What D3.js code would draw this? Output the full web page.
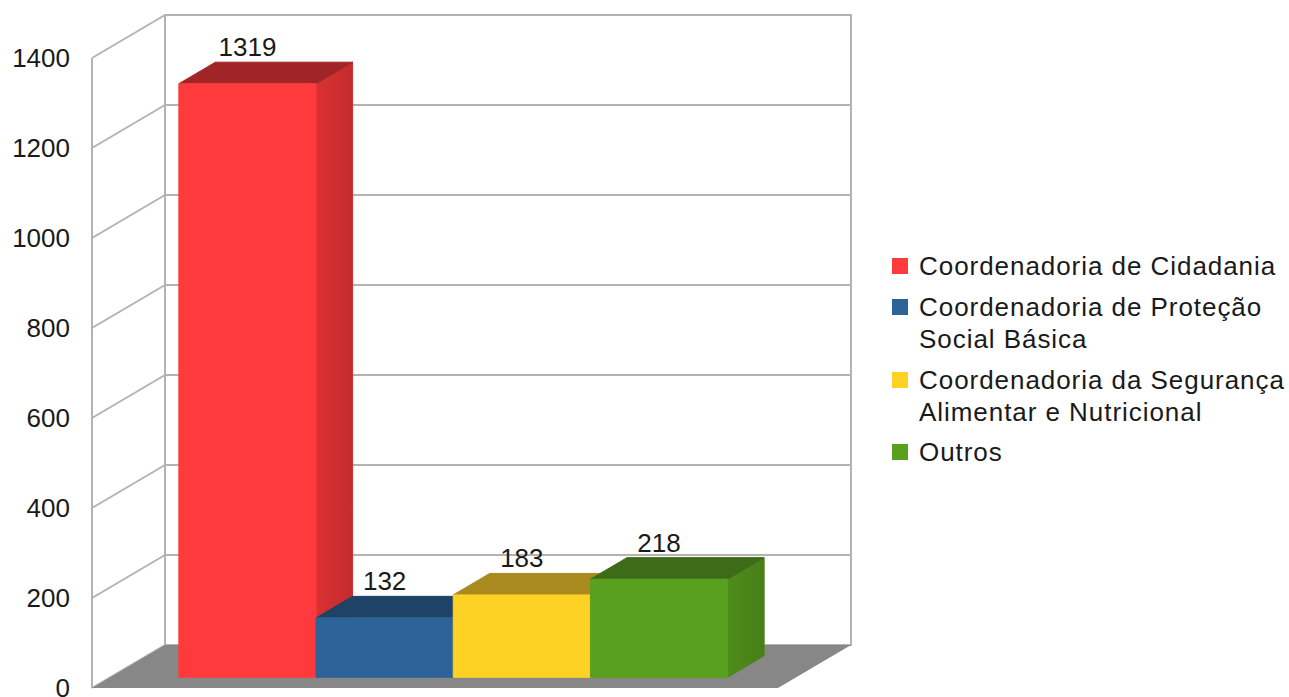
<!DOCTYPE html>
<html>
<head>
<meta charset="utf-8">
<script src="https://cdn.jsdelivr.net/npm/d3@7/dist/d3.min.js"></script>
<style>
  html, body { margin: 0; padding: 0; background: #fff; }
  svg { display: block; }
  text { font-family: "Liberation Sans", Arial, sans-serif; fill: #1a1a1a; }
</style>
</head>
<body>
<svg id="chart" width="1289" height="697"></svg>
<script>
const categories = ["Coordenadoria de Cidadania", "Coordenadoria de Proteção Social Básica", "Coordenadoria da Segurança Alimentar e Nutricional", "Outros"];
const values = [1319, 132, 183, 218];
const legendLines = [["Coordenadoria de Cidadania"], ["Coordenadoria de Proteção", "Social Básica"], ["Coordenadoria da Segurança", "Alimentar e Nutricional"], ["Outros"]];
const tickValues = [0, 200, 400, 600, 800, 1000, 1200, 1400];
const frontColors = ["#ff3a3c", "#2e6399", "#fdd224", "#5aa01f"];
const topColors = ["#a12527", "#1f4267", "#a88a1f", "#3d6b17"];
const sideColors = ["#cf2e30", "#274f7a", "#d3ad1d", "#4b851a"];

const svg = d3.select("#chart");
const yScale = d3.scaleLinear().domain([0, 1400]).range([688, 58]);
const xScale = d3.scaleBand().domain(categories).range([92, 778]).paddingInner(0).paddingOuter(0.5);
const DX = 73, DY = -43; // full depth offset
const proj = (x, v, z) => [x + DX * z, yScale(v) + DY * z];

const gridColor = "#b3b3b3";
const walls = svg.append("g");
// back wall
walls.append("rect")
  .attr("x", proj(92, 0, 1)[0]).attr("y", proj(92, 1400, 1)[1])
  .attr("width", xScale.range()[1] - xScale.range()[0])
  .attr("height", yScale(0) - yScale(1400))
  .attr("fill", "#fff").attr("stroke", gridColor).attr("stroke-width", 2);
// gridlines
tickValues.forEach(v => {
  const f = proj(92, v, 0), b = proj(92, v, 1), br = proj(778, v, 1);
  walls.append("line").attr("x1", f[0]).attr("y1", f[1]).attr("x2", b[0]).attr("y2", b[1])
    .attr("stroke", gridColor).attr("stroke-width", 2);
  walls.append("line").attr("x1", b[0]).attr("y1", b[1]).attr("x2", br[0]).attr("y2", br[1])
    .attr("stroke", gridColor).attr("stroke-width", 2);
});
// side wall front edge
walls.append("line")
  .attr("x1", 92).attr("y1", yScale(0)).attr("x2", 92).attr("y2", yScale(1400))
  .attr("stroke", gridColor).attr("stroke-width", 2);
// floor
const floorPts = [proj(92, 0, 0), proj(778, 0, 0), proj(778, 0, 1), proj(92, 0, 1)];
walls.append("polygon").attr("points", floorPts.map(p => p.join(",")).join(" "))
  .attr("fill", "#878787");

// tick labels
svg.append("g").selectAll("text").data(tickValues).join("text")
  .attr("x", 70).attr("y", d => yScale(d)).attr("dy", "0.36em")
  .attr("text-anchor", "end").attr("font-size", 26).text(d => d);

// gradients for side faces
const defs = svg.append("defs");
sideColors.forEach((c, i) => {
  const g = defs.append("linearGradient").attr("id", "side" + i).attr("x1", "0").attr("x2", "1").attr("y1", "0").attr("y2", "0");
  g.append("stop").attr("offset", "0").attr("stop-color", d3.color(c).brighter(0.15));
  g.append("stop").attr("offset", "1").attr("stop-color", d3.color(c).darker(0.15));
});

// bars
const z0 = 0.25, z1 = 0.75;
const bw = xScale.bandwidth();
const bars = svg.append("g");
categories.forEach((c, i) => {
  const v = values[i];
  const x0 = xScale(c), x1 = x0 + bw;
  const poly = pts => pts.map(p => p.join(",")).join(" ");
  const g = bars.append("g").attr("stroke-linejoin", "round");
  g.append("polygon").attr("points", poly([proj(x1, 0, z0), proj(x1, v, z0), proj(x1, v, z1), proj(x1, 0, z1)]))
    .attr("fill", `url(#side${i})`).attr("stroke", sideColors[i]).attr("stroke-width", 1);
  g.append("polygon").attr("points", poly([proj(x0, v, z0), proj(x1, v, z0), proj(x1, v, z1), proj(x0, v, z1)]))
    .attr("fill", topColors[i]).attr("stroke", topColors[i]).attr("stroke-width", 1);
  g.append("polygon").attr("points", poly([proj(x0, 0, z0), proj(x1, 0, z0), proj(x1, v, z0), proj(x0, v, z0)]))
    .attr("fill", frontColors[i]).attr("stroke", frontColors[i]).attr("stroke-width", 1);
});

// value labels
svg.append("g").selectAll("text").data(categories).join("text")
  .attr("x", (d) => proj(xScale(d) + bw / 2, 0, z0)[0])
  .attr("y", (d, i) => proj(0, values[i], z1)[1] - 6)
  .attr("text-anchor", "middle").attr("font-size", 26)
  .text((d, i) => values[i]);

// legend
const legend = svg.append("g");
const entryY = [266, 307, 380, 452];
legendLines.forEach((lines, i) => {
  legend.append("rect").attr("x", 892).attr("y", entryY[i] - 8).attr("width", 16).attr("height", 16)
    .attr("fill", frontColors[i]);
  lines.forEach((t, j) => {
    legend.append("text").attr("x", 919).attr("y", entryY[i] + j * 32).attr("dy", "0.36em")
      .attr("font-size", 26).attr("letter-spacing", 0.95).text(t);
  });
});
</script>
</body>
</html>
